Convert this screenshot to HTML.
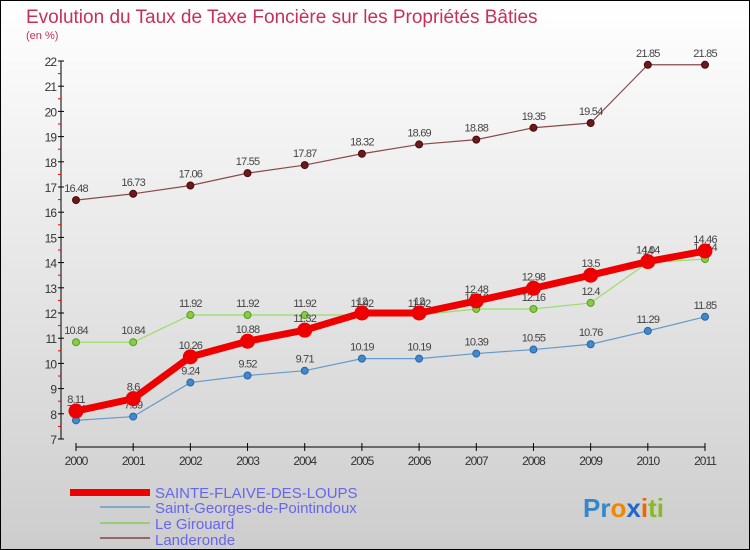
<!DOCTYPE html>
<html><head><meta charset="utf-8"><style>
body{margin:0;}
#c{width:750px;height:550px;position:relative;background:linear-gradient(#ffffff,#cdcdcd);box-sizing:border-box;border:1px solid #000;font-family:"Liberation Sans",sans-serif;overflow:hidden}
</style></head><body>
<div id="c">
<svg id="s" width="750" height="550" style="position:absolute;left:-1px;top:-1px">
<text x="26" y="23" font-size="19" fill="#c8305a">Evolution du Taux de Taxe Foncière sur les Propriétés Bâties</text>
<text x="26" y="39" font-size="11" fill="#c8305a">(en %)</text>
<g id="g"></g>
<g>
<rect x="70" y="489" width="35" height="7" fill="#ee0000"/>
<text x="155" y="498" font-size="15" fill="#6666ee">SAINTE-FLAIVE-DES-LOUPS</text>
<line x1="100" y1="507" x2="150" y2="507" stroke="#7fa8cc" stroke-width="2"/>
<text x="155" y="513" font-size="15" fill="#6666ee">Saint-Georges-de-Pointindoux</text>
<line x1="100" y1="523" x2="150" y2="523" stroke="#99cc77" stroke-width="2"/>
<text x="155" y="529" font-size="15" fill="#6666ee">Le Girouard</text>
<line x1="100" y1="538" x2="150" y2="538" stroke="#996666" stroke-width="2"/>
<text x="155" y="545" font-size="15" fill="#6666ee">Landeronde</text>
</g>
<rect x="100" y="489" width="50" height="7" fill="#ee0000"/>
<text x="583" y="517" font-size="26" font-weight="bold"><tspan fill="#3388cc">Pr</tspan><tspan fill="#ee8800">o</tspan><tspan fill="#2266cc">x</tspan><tspan fill="#ee6600">i</tspan><tspan fill="#88bb22">ti</tspan></text>
</svg>
</div>
<script>
const years=["2000","2001","2002","2003","2004","2005","2006","2007","2008","2009","2010","2011"];
const sainte=[8.11,8.6,10.26,10.88,11.32,12,12,12.48,12.98,13.5,14.04,14.46];
const stgeorges=[7.74,7.89,9.24,9.52,9.71,10.19,10.19,10.39,10.55,10.76,11.29,11.85];
const girouard=[10.84,10.84,11.92,11.92,11.92,11.92,11.92,12.16,12.16,12.4,14,14.14];
const landeronde=[16.48,16.73,17.06,17.55,17.87,18.32,18.69,18.88,19.35,19.54,21.85,21.85];
const yTicks=[7,8,9,10,11,12,13,14,15,16,17,18,19,20,21,22];
const NS="http://www.w3.org/2000/svg";
const g=document.getElementById('g');
const X=i=>76+i*(629/11);
const Y=v=>439-(v-7)*(378/15);
function mk(t,a,p){const e=document.createElementNS(NS,t);for(const k in a)e.setAttribute(k,a[k]);(p||g).appendChild(e);return e;}
// axes
let ya=mk('line',{x1:61,y1:Y(22),x2:61,y2:Y(7),stroke:'#000'});


yTicks.forEach(v=>{
 mk('line',{x1:58,y1:Y(v),x2:64,y2:Y(v),stroke:'#000'});
 if(v<22)mk('line',{x1:58,y1:Y(v+0.5),x2:61,y2:Y(v+0.5),stroke:'#e00'});
 const t=mk('text',{x:56,y:Y(v)+5,'font-size':12,fill:'#333','text-anchor':'end','letter-spacing':'-1'});t.textContent=v;
 
 
});
let xa=mk('line',{x1:X(0),y1:447,x2:X(11),y2:447,stroke:'#000'});


years.forEach((y,i)=>{
 mk('line',{x1:X(i),y1:443,x2:X(i),y2:451,stroke:'#000'});
 const t=mk('text',{x:X(i),y:465,'font-size':12,fill:'#333','text-anchor':'middle','letter-spacing':'-1'});t.textContent=y;
 
 
});
function series(d,name,col,w,r,fill,stroke){
 const pl=mk('polyline',{points:d.map((v,i)=>X(i)+','+Y(v)).join(' '),fill:'none',stroke:col,'stroke-width':w});
 
 
 d.forEach((v,i)=>{
  const c=mk('circle',{cx:X(i),cy:Y(v),r:r,fill:fill,stroke:stroke,'stroke-width':1});
  
  
  const t=mk('text',{x:X(i),y:Y(v)-8,'font-size':11,fill:'#444','text-anchor':'middle','letter-spacing':'-0.8'});t.textContent=v;
  
  
 });
}
series(landeronde,'landeronde','#8a4a4a',1.2,3.5,'#6a1a1a','#4a0a0a');
series(girouard,'le-girouard','#99dd66',1.2,3.5,'#88cc44','#559922');
series(stgeorges,'saint-georges','#6699cc',1.2,3.5,'#4488cc','#2266aa');
series(sainte,'sainte-flaive','#ee0000',7,7,'#ee0000','#ee0000');
</script>
</body></html>
